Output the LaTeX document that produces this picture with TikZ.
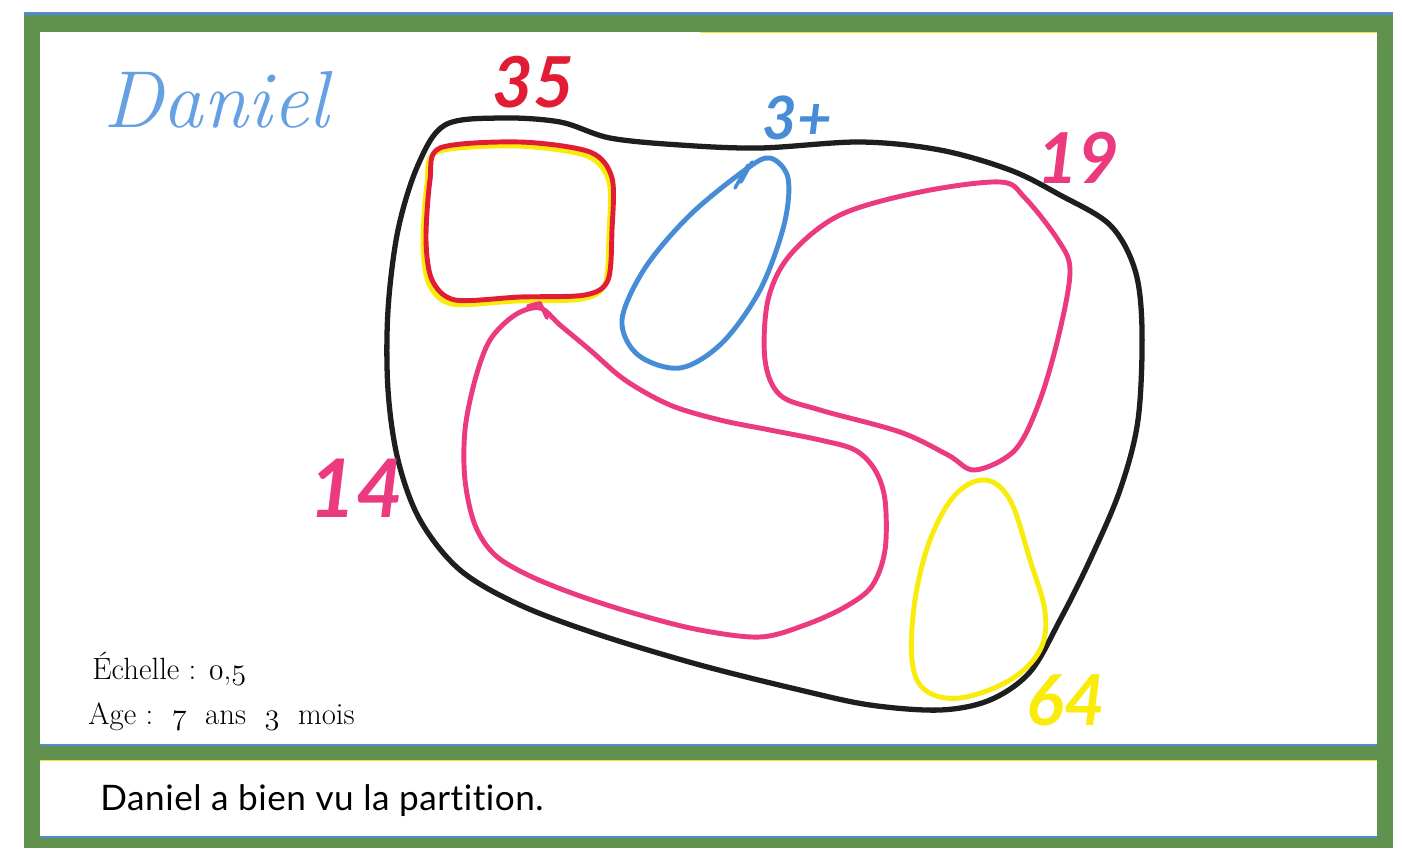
\documentclass[tikz,border=0pt]{standalone}
\usepackage{fontspec}
\newfontfamily\handfont{Lato}
\newfontfamily\capfont{Lato}[Ligatures=NoCommon, LetterSpace=1.5]
\newcommand\osf[1]{{\fontencoding{OML}\fontfamily{cmm}\fontseries{m}\fontshape{it}\selectfont #1}}
\definecolor{framegreen}{RGB}{96,146,78}
\definecolor{edgeblue}{RGB}{80,140,210}
\definecolor{edgeyellow}{RGB}{245,230,40}
\definecolor{penred}{RGB}{226,28,52}
\definecolor{penpink}{RGB}{236,58,128}
\definecolor{penyellow}{RGB}{250,236,10}
\definecolor{penblue}{RGB}{70,140,215}
\definecolor{nameblue}{RGB}{100,160,226}
\definecolor{penblack}{RGB}{30,30,30}
\tikzset{
  loopline/.style={line width=2.8pt, line cap=round, line join=round},
  numlabel/.style={inner sep=0pt},
  printtext/.style={font=\fontsize{17.5}{20}\selectfont, inner sep=0pt, anchor=base west},
}
\begin{document}
\begin{tikzpicture}[x=0.02cm, y=-0.02cm]
\path[use as bounding box] (0,0) rectangle (1402,848);
\fill[white] (0,0) rectangle (1402,848);
% frame
\fill[framegreen] (24,13) rectangle (1393,848);
\fill[white] (40,32) rectangle (1377,745);
\fill[white] (40,761) rectangle (1377,837);
\draw[edgeblue, line width=1.2pt] (24,13.5) -- (1393,13.5);
\draw[edgeblue, line width=1.2pt] (40,745) -- (1377,745);
\draw[edgeblue, line width=1.2pt] (40,837) -- (1377,837);
\draw[edgeyellow, line width=1pt] (700,32.5) -- (1377,32.5);
\draw[edgeyellow, line width=1pt] (40,760.5) -- (1377,760.5);

% outer black loop
\draw[loopline, penblack, line width=3pt] plot[smooth cycle, tension=0.55] coordinates {
 (445,125) (500,118) (560,122) (610,138) (680,145) (760,148) (860,142) (940,150)
 (1010,170) (1060,195) (1110,225) (1135,270) (1142,330) (1138,420) (1120,490)
 (1090,560) (1060,620) (1030,672) (990,700) (940,710) (870,705) (800,690) (700,665)
 (600,635) (520,605) (460,570) (420,520) (398,460) (388,390) (388,310) (398,230) (418,165)};

% red/yellow square (35)
\draw[loopline, penyellow, shift={(-3,4)}] plot[smooth cycle, tension=0.5] coordinates {
 (440,148) (520,142) (590,152) (612,178) (612,230) (608,280) (585,295) (520,297) (455,300) (432,280) (426,240) (430,180)};
\draw[loopline, penred] plot[smooth cycle, tension=0.5] coordinates {
 (440,148) (520,142) (590,152) (612,178) (612,230) (608,280) (585,295) (520,297) (455,300) (432,280) (426,240) (430,180)};

% blue teardrop (3+)
\draw[loopline, penblue] plot[smooth cycle, tension=0.55] coordinates {
 (745,170) (690,215) (645,268) (622,320) (638,355) (680,368) (722,343) (760,290) (784,225) (788,178) (770,158)};
\draw[loopline, penblue, line width=2pt] (735,188) -- (748,165) -- (741,182) -- (752,162);

% pink 19
\draw[loopline, penpink] plot[smooth cycle, tension=0.55] coordinates {
 (1000,182) (1025,198) (1058,240) (1070,270) (1060,330) (1040,400) (1015,450) (975,470)
 (948,455) (900,432) (820,410) (780,395) (765,360) (768,300) (790,255) (840,215) (920,192)};

% pink 14
\draw[loopline, penpink] plot[smooth cycle, tension=0.55] coordinates {
 (540,308) (515,315) (490,340) (475,380) (465,430) (465,480) (475,525) (495,555) (530,576)
 (580,596) (640,615) (700,630) (760,637) (805,625) (845,607) (872,586) (885,550) (885,500)
 (875,470) (855,450) (820,440) (770,430) (720,420) (670,405) (625,380) (590,350) (560,325)};
\draw[loopline, penpink, line width=2.2pt] (528,306) -- (540,303) -- (547,318);

% yellow 64
\draw[loopline, penyellow] plot[smooth cycle, tension=0.6] coordinates {
 (985,480) (1010,500) (1030,560) (1045,612) (1040,650) (1010,680) (960,698) (925,690)
 (912,660) (915,600) (930,540) (955,495)};

% labels
\node[font=\fontsize{46}{50}\selectfont\itshape, text=nameblue, inner sep=0pt] (name) at (216,100) {Daniel};
\node[numlabel, font=\handfont\bfseries\itshape\fontsize{40}{44}\selectfont, text=penred] (n35) at (533,82) {35};
\node[numlabel, font=\handfont\bfseries\itshape\fontsize{34}{38}\selectfont, text=penblue] (n3) at (797,118) {3+};
\node[numlabel, font=\handfont\bfseries\itshape\fontsize{40}{44}\selectfont, text=penpink] (n19) at (1078,158) {19};
\node[numlabel, font=\handfont\bfseries\itshape\fontsize{46}{50}\selectfont, text=penpink] (n14) at (356,488) {14};
\node[numlabel, font=\handfont\bfseries\itshape\fontsize{40}{44}\selectfont, text=penyellow] (n64) at (1066,700) {64};

\node[printtext] (scale) at (92,679) {Échelle : \osf{0},\osf{5}};
\node[printtext] (age) at (88,724) {Age :\ \ \osf{7}\ \ ans\ \ \osf{3}\ \ mois};
\node[font=\capfont\fontsize{20}{24}\selectfont, inner sep=0pt, anchor=base west] (cap) at (100,810) {Daniel a bien vu la partition.};
\end{tikzpicture}
\end{document}
